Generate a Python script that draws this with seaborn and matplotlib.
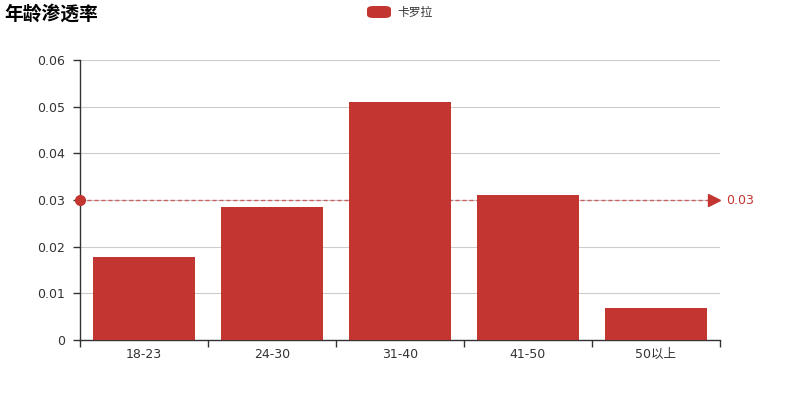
import numpy as np
import pandas as pd
import seaborn as sns
import matplotlib.pyplot as plt
from matplotlib.patches import FancyBboxPatch

# data
ages = ['18-23', '24-30', '31-40', '41-50', '50以上']
rates = [0.0178, 0.0285, 0.0510, 0.0311, 0.0069]
series_name = '卡罗拉'
mark_value = 0.03
yticks = [0, 0.01, 0.02, 0.03, 0.04, 0.05, 0.06]
ytick_labels = ['0', '0.01', '0.02', '0.03', '0.04', '0.05', '0.06']

red = '#c23531'
sns.set_style('white')
plt.rcParams['font.family'] = ['DejaVu Sans', 'Noto Sans CJK SC']

df = pd.DataFrame({'age': ages, 'rate': rates})

fig = plt.figure(figsize=(8, 4), dpi=100)
ax = fig.add_axes([0.1, 0.15, 0.8, 0.7])

sns.barplot(data=df, x='age', y='rate', color=red, saturation=1, width=0.8, ax=ax,
            zorder=3, linewidth=0)

ax.set_ylim(0, 0.06)
ax.set_xlim(-0.5, len(ages) - 0.5)
ax.set_yticks(yticks)
ax.set_yticklabels(ytick_labels, fontsize=9, color='#333333')
ax.set_xticks(range(len(ages)))
ax.set_xticklabels(ages, fontsize=9, color='#333333')
ax.tick_params(axis='x', length=0, pad=6)
ax.tick_params(axis='y', length=5, width=1, color='#333333', direction='out', left=True, pad=6)
# x ticks at category boundaries
ax.set_xticks(np.arange(-0.5, len(ages)), minor=True)
ax.tick_params(axis='x', which='minor', length=5, width=1, color='#333333', direction='out', bottom=True)
ax.set_xlabel('')
ax.set_ylabel('')
ax.yaxis.grid(True, color='#cccccc', linewidth=0.8, zorder=0)
ax.set_axisbelow(True)
for s in ['top', 'right']:
    ax.spines[s].set_visible(False)
for s in ['left', 'bottom']:
    ax.spines[s].set_color('#333333')
    ax.spines[s].set_linewidth(1)

# mark line
ax.plot([-0.5, len(ages) - 0.55], [mark_value, mark_value], linestyle=(0, (3, 2)),
        color=red, alpha=0.7, linewidth=1, zorder=5, clip_on=False)
ax.plot([-0.5], [mark_value], marker='o', color=red, markersize=7, zorder=6, clip_on=False)
ax.plot([len(ages) - 0.55], [mark_value], marker='>', color=red, markersize=8, zorder=6, clip_on=False)
ax.text(len(ages) - 0.45, mark_value, f'{mark_value:.2f}', color=red, fontsize=9,
        va='center', ha='left', clip_on=False)

# title
fig.text(0.006, 0.965, '年龄渗透率', fontsize=13.5, fontweight='heavy', color='#000000',
         va='center', family=['Noto Sans CJK SC'])

# legend
fig.patches.append(FancyBboxPatch((367 / 800, 1 - 18 / 400), 24 / 800, 12 / 400,
                                  boxstyle='round,pad=0,rounding_size=0.008',
                                  transform=fig.transFigure, facecolor=red, edgecolor='none'))
fig.text(397 / 800, 1 - 12 / 400, series_name, fontsize=8.5, color='#333333', va='center',
         family=['Noto Sans CJK SC'])

fig.savefig('out.png', dpi=100)
